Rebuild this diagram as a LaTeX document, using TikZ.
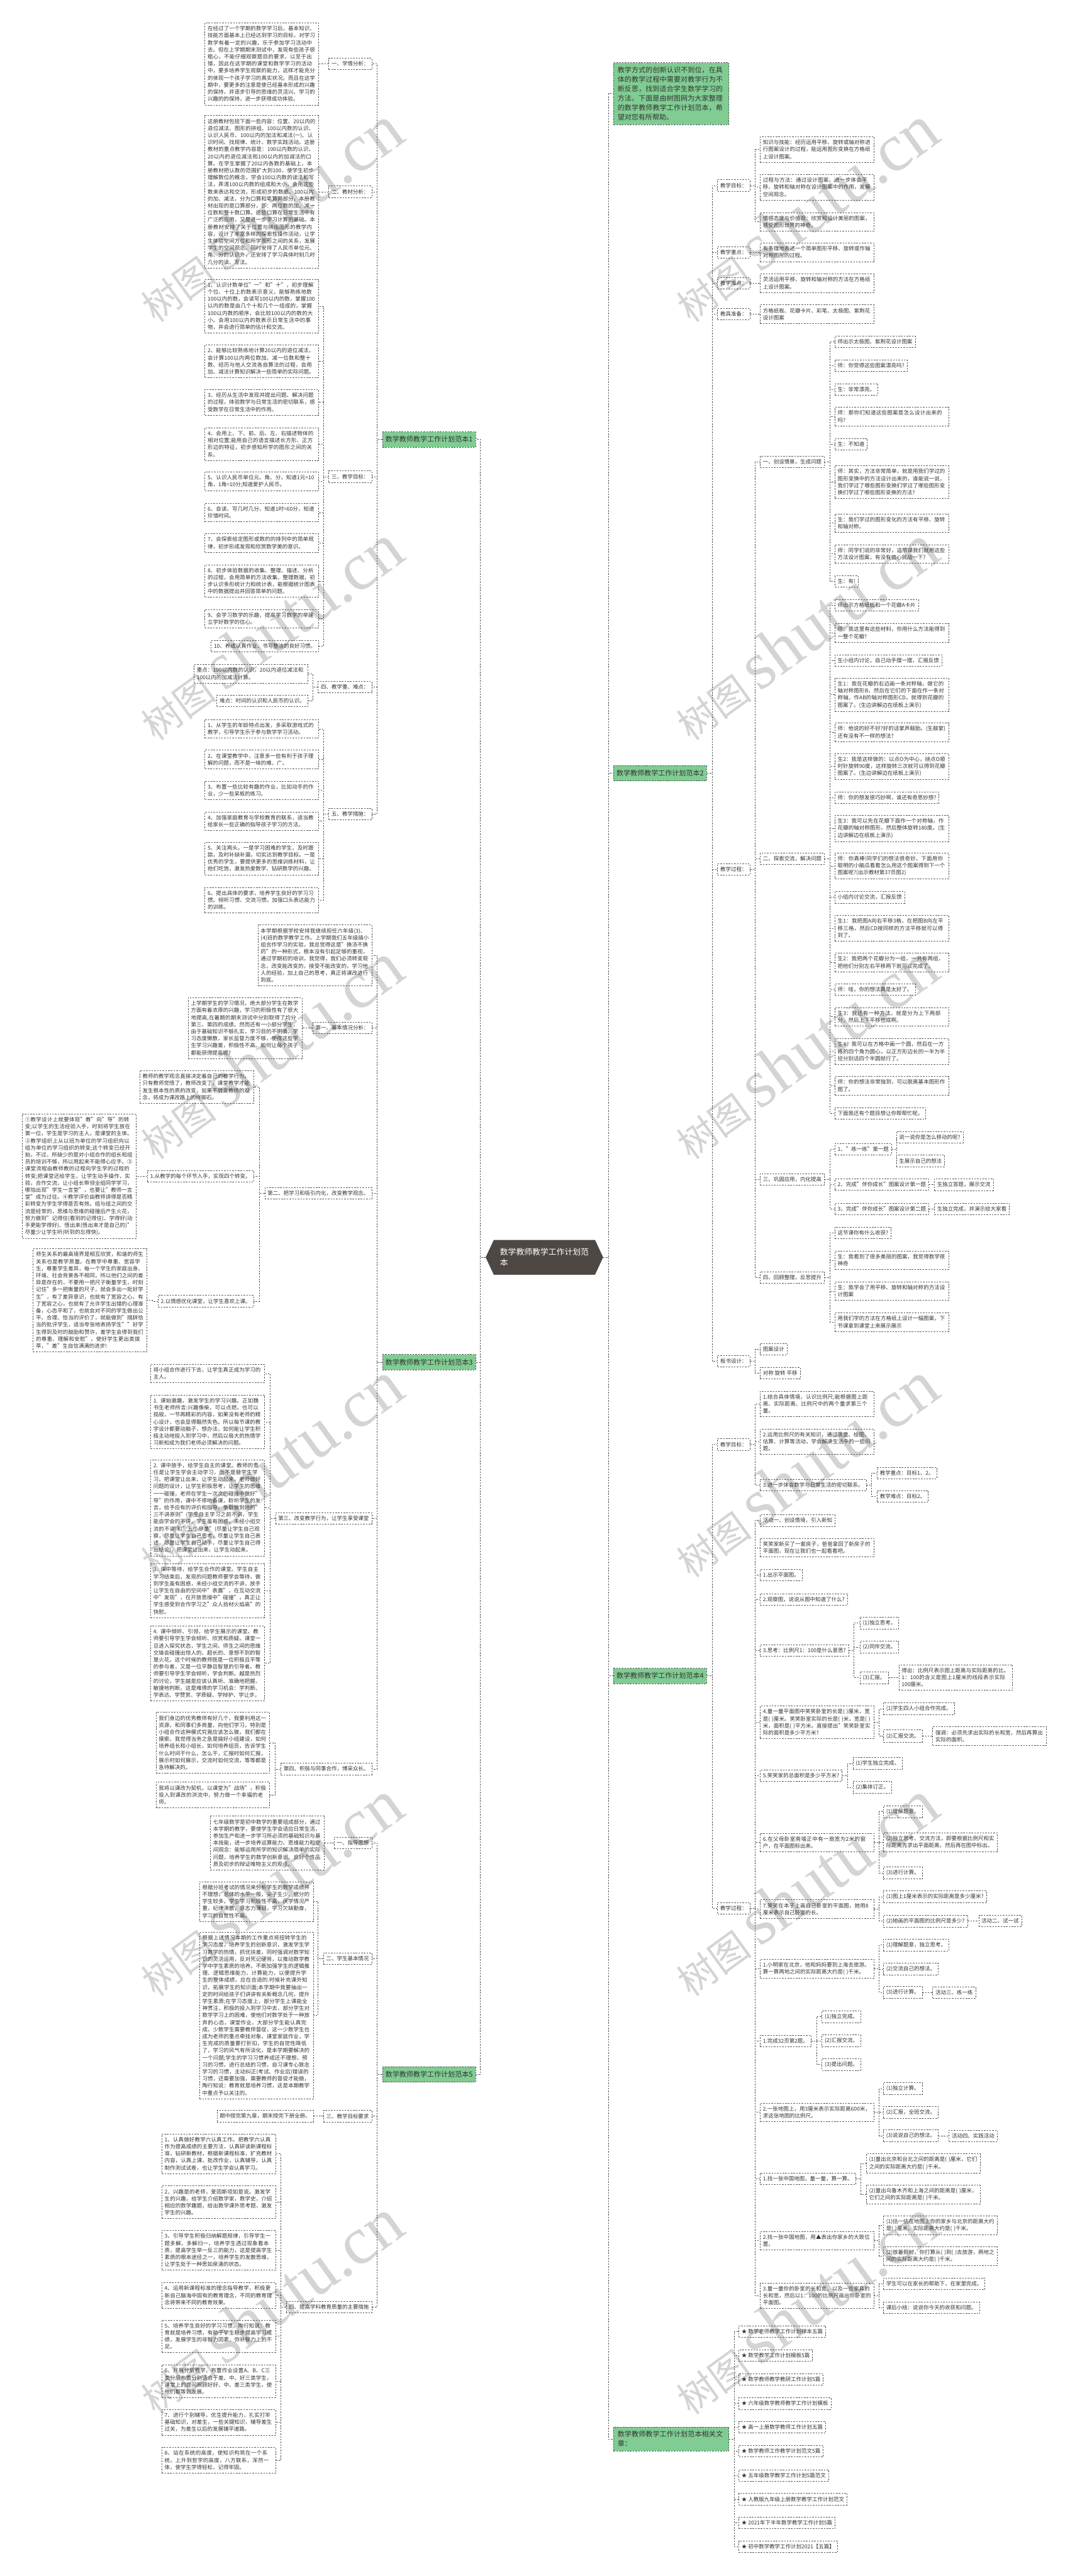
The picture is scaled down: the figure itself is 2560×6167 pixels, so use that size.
\documentclass[tikz,border=0pt]{standalone}
\usepackage{fontspec}
\setmainfont{Noto Sans CJK SC}
\newfontfamily\wmfont{Liberation Serif}
\usepackage{tikz}
\usetikzlibrary{shapes, arrows.meta, positioning, calc}
\XeTeXlinebreaklocale "zh"
\XeTeXlinebreakskip = 0pt plus 1pt
\definecolor{boxline}{HTML}{555555}
\definecolor{inkgray}{HTML}{333333}
\definecolor{leafgreen}{HTML}{80CC92}
\definecolor{rootgray}{HTML}{4E4845}
\newcommand{\cnsmall}{\fontsize{10.9pt}{14.4pt}\selectfont}
\newcommand{\cnmid}{\fontsize{14.2pt}{19.2pt}\selectfont}
\newcommand{\cnroot}{\fontsize{16.5pt}{21pt}\selectfont}
\newcommand{\linkL}[2]{\path[draw, Link] (#1.west) -- ++(-12.5,0) |- (#2.east);}
\newcommand{\linkR}[2]{\path[draw, Link] (#1.east) -- ++(12.5,0) |- (#2.west);}

\begin{document}
\begin{tikzpicture}
  [
    x=0.03cm, y=-0.03cm,
    Link/.style={draw=boxline, line width=0.8pt, dash pattern=on 3.2pt off 2.4pt},
    Tag/.style={draw=boxline, line width=0.8pt, dash pattern=on 3.2pt off 2.4pt, text=inkgray, font=\cnsmall, inner xsep=5.6pt, inner ysep=6.6pt},
    Leaf/.style={Tag, text width=221pt, align=left},
    Branch/.style={Tag, fill=leafgreen, font=\cnmid, inner xsep=6pt, inner ysep=9pt},
    Intro/.style={Branch, text width=219pt, align=left, inner xsep=8.3pt, inner ysep=8.5pt},
    Root/.style={signal, signal to=east and west, signal pointer angle=130, fill=rootgray, text=white, font=\cnroot, align=left, minimum width=240pt, minimum height=71pt},
    Mark/.style={text=black!17, rotate=36, inner sep=0pt, font=\fontsize{78pt}{78pt}\selectfont}
  ]
  \path[use as bounding box, fill=white] (0, 0) rectangle (2560, 6167);
  % Marks
  \node[Mark] (wm1) at (644, 512) {树图\hspace{18pt}{\wmfont\fontsize{138pt}{138pt}\selectfont shutu.cn}};
  \node[Mark] (wm2) at (644, 1514) {树图\hspace{18pt}{\wmfont\fontsize{138pt}{138pt}\selectfont shutu.cn}};
  \node[Mark] (wm3) at (644, 2516) {树图\hspace{18pt}{\wmfont\fontsize{138pt}{138pt}\selectfont shutu.cn}};
  \node[Mark] (wm4) at (644, 3518) {树图\hspace{18pt}{\wmfont\fontsize{138pt}{138pt}\selectfont shutu.cn}};
  \node[Mark] (wm5) at (644, 4520) {树图\hspace{18pt}{\wmfont\fontsize{138pt}{138pt}\selectfont shutu.cn}};
  \node[Mark] (wm6) at (644, 5522) {树图\hspace{18pt}{\wmfont\fontsize{138pt}{138pt}\selectfont shutu.cn}};
  \node[Mark] (wm7) at (1925, 512) {树图\hspace{18pt}{\wmfont\fontsize{138pt}{138pt}\selectfont shutu.cn}};
  \node[Mark] (wm8) at (1925, 1514) {树图\hspace{18pt}{\wmfont\fontsize{138pt}{138pt}\selectfont shutu.cn}};
  \node[Mark] (wm9) at (1925, 2516) {树图\hspace{18pt}{\wmfont\fontsize{138pt}{138pt}\selectfont shutu.cn}};
  \node[Mark] (wm10) at (1925, 3518) {树图\hspace{18pt}{\wmfont\fontsize{138pt}{138pt}\selectfont shutu.cn}};
  \node[Mark] (wm11) at (1925, 4520) {树图\hspace{18pt}{\wmfont\fontsize{138pt}{138pt}\selectfont shutu.cn}};
  \node[Mark] (wm12) at (1925, 5522) {树图\hspace{18pt}{\wmfont\fontsize{138pt}{138pt}\selectfont shutu.cn}};

  % Nodes
  \node[Root] (root) at (1303, 3010) {数学教师教学工作计划范\\本};

  % --- plan 1
  \node[Branch, anchor=east] (p1) at (1139, 1052) {数学教师教学工作计划范本1};
  \node[Tag, anchor=east] (s1) at (890, 153) {一、学情分析：};
  \node[Leaf, anchor=east] (s1a) at (763, 153) {在经过了一个学期的数学学习后，基本知识、技能方面基本上已经达到学习的目标，对学习数学有着一定的兴趣，乐于参加学习活动中去。但在上学期期末测试中，发现有些孩子很粗心，不能仔细观察题目的要求，以至于出错，因此在这学期的课堂和数学学习的活动中，要多培养学生观察的能力，这样才能充分的体现一个孩子学习的真实状况。而且在这学期中，要更多的注意是使已经基本形成的兴趣的保持，并逐步引导的思维的灵活兴、学习的兴趣的的保持，进一步获得成功体验。};
  \node[Tag, anchor=east] (s2) at (890, 459) {二、教材分析：};
  \node[Leaf, anchor=east] (s2a) at (763, 459) {这册教材包括下面一些内容：位置、20以内的退位减法、图形的拼组、100以内数的认识、认识人民币、100以内的加法和减法(一)、认识时间、找规律、统计、数学实践活动。这册教材的重点教学内容是：100以内数的认识，20以内的退位减法和100以内的加减法的口算。在学生掌握了20以内各数的基础上，本册教材把认数的范围扩大到100，使学生初步理解数位的概念，学会100以内数的读法和写法，弄清100以内数的组成和大小，会用这些数来表达和交流，形成初步的数感。100以内的加、减法，分为口算和笔算两部分，本册教材出现的是口算部分，即：两位数的加、减一位数和整十数口算。这些口算在日常生活中有广泛的应用，又是进一步学习计算的基础。本册教材安排了关于位置与拼组图形的教学内容，设计了丰富多样的探索性操作活动，让学生体验空间方位和所学图形之间的关系，发展学生的空间观念。同时安排了人民币单位元、角、分的认识外，还安排了学习具体时刻几时几分的读、写法。};
  \node[Tag, anchor=east] (s3) at (890, 1141) {三、教学目标：};
  \node[Leaf, anchor=east] (g1) at (763, 733) {1、认识计数单位"一"和"十"，初步理解个位、十位上的数表示意义，能够熟练地数100以内的数，会读写100以内的数，掌握100以内的数是由几个十和几个一组成的，掌握100以内数的顺序，会比较100以内的数的大小。会用100以内的数表示日常生活中的事物，并会进行简单的估计和交流。};
  \node[Leaf, anchor=east] (g2) at (763, 865) {2、能够比较熟练地计算20以内的退位减法，会计算100以内两位数加、减一位数和整十数、经历与他人交流各自算法的过程，会用加、减法计算知识解决一些简单的实际问题。};
  \node[Leaf, anchor=east] (g3) at (763, 963) {3、经历从生活中发现并提出问题、解决问题的过程，体验数学与日常生活的密切联系，感受数学在日常生活中的作用。};
  \node[Leaf, anchor=east] (g4) at (763, 1063) {4、会用上、下、前、后、左、右描述物体的相对位置;能用自己的语言描述长方形、正方形边的特征，初步感知所学的图形之间的关系。};
  \node[Leaf, anchor=east] (g5) at (763, 1152) {5、认识人民币单位元、角、分，知道1元=10角，1角=10分;知道爱护人民币。};
  \node[Leaf, anchor=east] (g6) at (763, 1227) {6、会读、写几时几分，知道1时=60分，知道珍惜时间。};
  \node[Leaf, anchor=east] (g7) at (763, 1300) {7、会探索给定图形或数的的排列中的简单规律，初步形成发现和欣赏数学美的意识。};
  \node[Leaf, anchor=east] (g8) at (763, 1391) {8、初步体验数据的收集、整理、描述、分析的过程，会用简单的方法收集、整理数据，初步认识条形统计力和统计表，能根据统计图表中的数据提出并回答简单的问题。};
  \node[Leaf, anchor=east] (g9) at (763, 1481) {9、会学习数学的乐趣，提高学习数学的举建立学好数学的信心。};
  \node[Tag, anchor=east] (g10) at (763, 1547) {10、养成认真作业、书写整洁的良好习惯。};
  \node[Tag, anchor=east] (s4) at (890, 1645) {四、教学重、难点：};
  \node[Leaf, anchor=east] (k1) at (737, 1613) {重点：100以内数的认识，20以内退位减法和100以内的加减法计算。};
  \node[Tag, anchor=east] (k2) at (737, 1678) {难点：时间的认识和人民币的认识。};
  \node[Tag, anchor=east] (s5) at (890, 1949) {五、教学措施：};
  \node[Leaf, anchor=east] (m1) at (763, 1745) {1、从学生的年龄特点出发，多采取游戏式的教学，引导学生乐于参与数学学习活动。};
  \node[Leaf, anchor=east] (m2) at (763, 1818) {2、在课堂教学中，注意多一些有利于孩子理解的问题，而不是一味的难、广。};
  \node[Leaf, anchor=east] (m3) at (763, 1892) {3、布置一些比较有趣的作业，比如动手的作业，少一些呆板的练习。};
  \node[Leaf, anchor=east] (m4) at (763, 1966) {4、加强家庭教育与学校教育的联系，适当教给家长一些正确的指导孩子学习的方法。};
  \node[Leaf, anchor=east] (m5) at (763, 2055) {5、关注两头。一是学习困难的学生，及时跟踪，及时补缺补漏，切实达到教学目标。一是优秀的学生，要提供更多的思维训练材料，让他们吃饱，激发热爱数学、钻研数学的兴趣。};
  \node[Leaf, anchor=east] (m6) at (763, 2155) {6、提出具体的要求，培养学生良好的学习习惯。倾听习惯、交流习惯。加强口头表达能力的训练。};

  % --- plan 3
  \node[Branch, anchor=east] (p3) at (1139, 3261) {数学教师教学工作计划范本3};
  \node[Leaf, anchor=east] (t0) at (890, 2287) {本学期根据学校安排我继续担任六年级(3)、(4)班的数学教学工作。上学期我们五年级搞小组合作学习的实验，我总觉得这是"换汤不换药"的一种形式，根本没有引起足够的重视，通过学期初的培训，我觉得，我们必须转变观念，改变能改变的，接受不能改变的，学习他人的经验，加上自己的思考，真正将课改进行到底。};
  \node[Tag, anchor=east] (t1) at (890, 2461) {第一、基本情况分析：};
  \node[Leaf, anchor=east] (t1a) at (723, 2461) {上学期学生的学习情况，绝大部分学生在数学方面有着浓厚的兴趣，学习的积极性有了很大地提高,在暑期的期末测试中分别取得了均分第三、第四的成绩。然而还有一小部分学生，由于基础知识不够扎实，学习目的不明确，学习态度懒散，家长监督力度不够，使得这些学生学习兴趣差，积极性不高。如何让每个孩子都能获得提高呢?};
  \node[Tag, anchor=east] (t2) at (890, 2857) {第二、把学习和吸引内化，改变教学观念。};
  \node[Leaf, anchor=east] (t2a) at (607, 2602) {教师的教学观念直接决定着自己的教学行为。只有教师觉悟了，教师改变了，课堂教学才能发生根本性的质的改变，如果不转变教师的观念，将成为课改路上的绊脚石。};
  \node[Tag, anchor=east] (t2b) at (607, 2816) {1.从教学的每个环节入手，实现四个转变。};
  \node[Leaf, anchor=east] (t2b1) at (326, 2816) {①教学设计上就要体现"教"向"导"的转变;以学生的生活经验入手，时刻将学生放在第一位，学生是学习的主人，是课堂的主体。②教学组织上从以班为单位的学习组织向以组为单位的学习组织的转变;这个转变已经开始，不过，所缺少的是对小组合作的组长和组员的培训不够，所以用起来不能得心应手。③课堂流程由教师教的过程向学生学的过程的转变;把课堂还给学生，让学生动手操作，实验，合作交流，让小组长带领全组同学学习，哪怕出现"学生一言堂"，也要让"教师一言堂"成为过往。④教学评价由教师讲得是否精彩转变为学生学得是否有效。组与组之间的交流是经常的，思维与思维的碰撞后产生火花，努力做到"记得住(看到的记得住)、学得好(动手更能学得好)、悟出来(悟出来才是自己的)"尽量少让学生听(听到的忘得快)。};
  \node[Tag, anchor=east] (t2c) at (607, 3115) {2.以情感优化课堂，让学生喜欢上课。};
  \node[Leaf, anchor=east] (t2c1) at (352, 3113) {师生关系的最高境界是相互欣赏，和谐的师生关系也是教学质量。在教学中尊重、宽容学生，尊重学生差异，每一个学生的家庭出身、环境、社会背景各不相同，所以他们之间的差异是存在的，不要用一把尺子衡量学生，时刻记住"多一把衡量的尺子，就会多出一批好学生"，有了差异意识，也就有了宽容之心，有了宽容之心，也就有了允许学生出错的心理准备，心态平和了，也就会对不同的学生做出公平、合理、恰当的评价了，就能做到"措辞恰当的批评学生，适当夸张地表扬学生""好学生得到及时的鼓励和赞许，差学生会得到我们的尊重、理解和安慰"，使好学生更出类拔萃，"差"生自信满满的进步!};
  \node[Tag, anchor=east] (t3) at (890, 3635) {第三、改变教学行为，让学生享受课堂};
  \node[Leaf, anchor=east] (c1) at (633, 3288) {将小组合作进行下去，让学生真正成为学习的主人。};
  \node[Leaf, anchor=east] (c2) at (633, 3404) {1. 课始激趣，激发学生的学习兴趣。正如魏书生老师所言:兴趣像柴，可以点燃，也可以捣毁，一节再精彩的内容，如果没有老师的精心设计，也会显得黯然失色。所以每节课的教学设计都要动脑子，想办法，如何能让学生积极主动地投入到学习中，然后以极大的热情学习新知成为我们老师必须解决的问题。};
  \node[Leaf, anchor=east] (c3) at (633, 3610) {2. 课中放手，给学生自主的课堂。教师的责任是让学生学会主动学习，而不是替学生学习。把课堂让出来，让学生动起来，老师做好问题的设计，让学生积极思考，让学生的思维一一碰撞，老师在学生一次次的碰撞中做好"导"的作用，课中不停地备课，聆听学生的发言，给予应有的评价和指导，争取做到她的"三不讲原则"(学生自主学习之前不讲，学生能自学会的不讲，学生虽有困惑，未经小组交流的不讲)和"五个尽量"(尽量让学生自己观察，尽量让学生自己思考，尽量让学生自己表述，尽量让学生自己动手，尽量让学生自己得出结论)，把课堂让出来，让学生动起来。};
  \node[Leaf, anchor=east] (c4) at (633, 3808) {3. 课中等待，给学生合作的课堂。学生自主学习结束后，发现的问题教师要学会等待，做到学生虽有困惑，未经小组交流的不讲，放手让学生在自由的空间中"表露"，在互动交流中"发现"，在开放思维中"碰撞"，真正让学生感受到合作学习之"众人拾材火焰高"的快慰。};
  \node[Leaf, anchor=east] (c5) at (633, 3982) {4. 课中倾听、引领，给学生展示的课堂。教师要引导学生学会倾听、欣赏和质疑。课堂一旦进入探究状态，学生之间、师生之间的思维交锋会碰撞出惊人的、超长的、意想不到的智慧火花。这个时候的教师既是一位积极且平等的参与者，又是一位平静且智慧的引导者。教师要引导学生学会倾听，学会判断。越是热烈的讨论，学生越是应该认真听、准确地把握、敏捷地判断。这是难得的学习机会：学判断、学表达、学赞赏、学质疑、学辩护、学让步。};
  \node[Tag, anchor=east] (t4) at (890, 4235) {第四、积极与同事合作，博采众长。};
  \node[Leaf, anchor=east] (d1) at (646, 4172) {我们身边的优秀教师有好几个，我要利用这一资源，和同事们多商量，向他们学习，特别是小组合作这种模式究竟应该怎么做，我们都在摸索，我觉得当务之急是搞好小组建设，如何培养组长和小组长，如何培养组员，告诉学生什么时间干什么，怎么干，汇报时如何汇报，展示时如何展示，交流时如何交流，等等都是急待解决的。};
  \node[Leaf, anchor=east] (d2) at (646, 4297) {我将以课改为契机，以课堂为"战场"，积极投入到课改的洪流中，努力做一个幸福的老师。};

  % --- plan 5
  \node[Branch, anchor=east] (p5) at (1139, 4966) {数学教师教学工作计划范本5};
  \node[Tag, anchor=east] (u1) at (890, 4412) {一、指导思想};
  \node[Leaf, anchor=east] (u1a) at (776, 4412) {七年级数学是初中数学的重要组成部分，通过本学期的教学，要使学生学会适应日常生活，参加生产和进一步学习所必须的基础知识与基本技能，进一步培养运算能力、思维能力和空间观念：能够运用所学的知识解决简单的实际问题，培养学生的数学创新意识、良好个性品质及初步的辩证唯物主义的观点。};
  \node[Tag, anchor=east] (u2) at (890, 4689) {二、学生基本情况};
  \node[Leaf, anchor=east] (u2a) at (750, 4552) {根据分班考试的情况来分析学生的数学成绩并不理想，总体的水平一般，尖子生少、低分的学生较多。学生学习积极性不高，厌学情况严重，纪律涣散，意志力薄弱，学习欠缺勤奋，学习的自觉性不高。};
  \node[Leaf, anchor=east] (u2b) at (750, 4825) {根据上述情况本期的工作重点将扭转学生的学习态度，培养学生的创新意识，激发学生学习数学的热情，抓优扶差，同时强调对数学知识的灵活运用，反对死记硬背，以推动数学教学中学生素质的培养。不断加强学生的逻辑推理、逻辑思维能力，计算能力，以便提升学生的整体成绩，应在合适的.时候补充课外知识，拓展学生的知识面;本学期中我要抽出一定的时间给孩子们讲讲有关新概念几何，提升学生素质;在学习态度上，部分学生上课能全神贯注，积极的投入到学习中去，部分学生对数学学习上的困难，使他们对数学处于一种放弃的心态，课堂作业，大部分学生能认真完成，少数学生需要教师督促，这一少数学生也成为老师的重点牵挂对象，课堂家庭作业，学生完成的质量要打折扣，学生的自觉性降低了，学习的风气有所淡化，是本学期要解决的一个问题;学生的学习习惯养成还不理想，预习的习惯，进行总结的习惯，自习课专心致志学习的习惯，主动纠正(考试、作业后)错误的习惯，还需要加强，需要教师的督促才能做，陶行知说：教育就是培养习惯，这是本期教学中重点予以关注的。};
  \node[Tag, anchor=east] (u3) at (890, 5066) {三、教学目标要求};
  \node[Tag, anchor=east] (u3a) at (750, 5066) {期中授完第九章，期末授完下册全册。};
  \node[Tag, anchor=east] (u4) at (890, 5523) {四、提高学科教育质量的主要措施};
  \node[Leaf, anchor=east] (h1) at (660, 5156) {1、认真做好教学六认真工作。把教学六认真作为提高成绩的主要方法，认真研读新课程标准，钻研新教材，根据新课程标准，扩充教材内容，认真上课，批改作业，认真辅导，认真制作测试试卷，也让学生学会认真学习。};
  \node[Leaf, anchor=east] (h2) at (660, 5272) {2、兴趣是的老师，爱因斯坦如是说。激发学生的兴趣，给学生介绍数学家，数学史，介绍相应的数学趣题，给出数学课外思考题，激发学生的兴趣。};
  \node[Leaf, anchor=east] (h3) at (660, 5387) {3、引导学生积极归纳解题规律，引导学生一题多解，多解归一，培养学生透过现象看本质，提高学生举一反三的能力，这是提高学生素质的根本途径之一，培养学生的发散思维，让学生处于一种思如泉涌的状态。};
  \node[Leaf, anchor=east] (h4) at (660, 5495) {4、运用新课程标准的理念指导教学，积极更新自己脑海中固有的教育理念，不同的教育理念将带来不同的教育效果。};
  \node[Leaf, anchor=east] (h5) at (660, 5593) {5、培养学生良好的学习习惯，陶行知说：教育就是培养习惯，有助于学生稳步提高学习成绩，发展学生的非智力因素，弥补智力上的不足。};
  \node[Leaf, anchor=east] (h6) at (660, 5701) {6、开展分层教学，布置作业设置A、B、C三类分层布置分别适合于差、中、好三类学生，课堂上的提问照顾好好、中、差三类学生，使他们都等到发展。};
  \node[Leaf, anchor=east] (h7) at (660, 5799) {7、进行个别辅导，优生提升能力，扎实打牢基础知识，对差生，一些关键知识，辅导差生过关，为差生以后的发展铺平道路。};
  \node[Leaf, anchor=east] (h8) at (660, 5890) {8、站在系统的高度，使知识构筑在一个系统，上升到哲学的高度，八方联系，浑然一体，使学生学得轻松，记得牢固。};

  % --- intro
  \node[Intro, anchor=west] (p0) at (1468, 224) {教学方式的创新认识不到位，在具体的教学过程中需要对教学行为不断反思，找到适合学生数学学习的方法。下面是由树图网为大家整理的数学教师教学工作计划范本，希望对您有所帮助。};

  % --- plan 2
  \node[Branch, anchor=west] (p2) at (1468, 1851) {数学教师教学工作计划范本2};
  \node[Tag, anchor=west] (w1) at (1717, 444) {教学目标：};
  \node[Leaf, anchor=west] (w1a) at (1819, 358) {知识与技能：经历运用平移、旋转或轴对称进行图案设计的过程，能运用图形变换在方格纸上设计图案。};
  \node[Leaf, anchor=west] (w1b) at (1819, 448) {过程与方法：通过设计图案，进一步体会平移、旋转和轴对称在设计图案中的作用，发展空间观念。};
  \node[Leaf, anchor=west] (w1c) at (1819, 531) {情感态度与价值观：欣赏和设计美丽的图案，感受图形世界的神奇。};
  \node[Tag, anchor=west] (w2) at (1717, 604) {教学重点：};
  \node[Leaf, anchor=west] (w2a) at (1819, 604) {有条理地表述一个简单图形平移、旋转或作轴对称图形的过程。};
  \node[Tag, anchor=west] (w3) at (1717, 678) {教学难点：};
  \node[Leaf, anchor=west] (w3a) at (1819, 678) {灵活运用平移、旋转和轴对称的方法在方格纸上设计图案。};
  \node[Tag, anchor=west] (w4) at (1717, 752) {教具准备：};
  \node[Leaf, anchor=west] (w4a) at (1819, 752) {方格纸板、花瓣卡片、彩笔、太极图、紫荆花设计图案};
  \node[Tag, anchor=west] (w5) at (1717, 2081) {教学过程：};
  \node[Tag, anchor=west] (x1) at (1819, 1106) {一、创设情景，生成问题};
  \node[Tag, anchor=west] (x1a) at (1998, 818) {师出示太极图、紫荆花设计图案};
  \node[Tag, anchor=west] (x1b) at (1998, 875) {师：你觉得这些图案漂亮吗?};
  \node[Tag, anchor=west] (x1c) at (1998, 932) {生：非常漂亮。};
  \node[Leaf, anchor=west] (x1d) at (1998, 997) {师：那你们知道这些图案是怎么设计出来的吗?};
  \node[Tag, anchor=west] (x1e) at (1998, 1063) {生：不知道};
  \node[Leaf, anchor=west] (x1f) at (1998, 1154) {师：其实，方法非常简单，就是用我们学过的图形变换中的方法设计出来的，谁能说一说，我们学过了哪些图形变换们学过了哪些图形变换们学过了哪些图形变换的方法?};
  \node[Leaf, anchor=west] (x1g) at (1998, 1252) {生：我们学过的图形变化的方法有平移、旋转和轴对称。};
  \node[Leaf, anchor=west] (x1h) at (1998, 1326) {师：同学们说的非常好，这节课我们就用这些方法设计图案，有没有信心挑战一下?};
  \node[Tag, anchor=west] (x1i) at (1998, 1392) {生：有!};
  \node[Tag, anchor=west] (x2) at (1819, 2056) {二、探索交流，解决问题};
  \node[Tag, anchor=west] (x2a) at (1998, 1449) {师出示方格纸板和一个花瓣A卡片};
  \node[Leaf, anchor=west] (x2b) at (1998, 1515) {师：我这里有这些材料，你用什么方法能得到一整个花瓣?};
  \node[Tag, anchor=west] (x2c) at (1998, 1581) {生小组内讨论，自己动手摆一摆，汇报反馈};
  \node[Leaf, anchor=west] (x2d) at (1998, 1663) {生1：我在花瓣的右边画一条对称轴，做它的轴对称图形B，然后在它们的下面在作一条对称轴，作AB的轴对称图形CD。就得到花瓣的图案了。(生边讲解边在纸板上演示)};
  \node[Leaf, anchor=west] (x2e) at (1998, 1753) {师：他说的好不好?好的话掌声鼓励。(生鼓掌)还有没有不一样的想法?};
  \node[Leaf, anchor=west] (x2f) at (1998, 1835) {生2：我是这样做的：以点O为中心，绕点O顺时针旋转90度，这样旋转三次就可以得到花瓣图案了。(生边讲解边在纸板上演示)};
  \node[Tag, anchor=west] (x2g) at (1998, 1910) {师：你的想发很巧妙啊，谁还有奇思妙想?};
  \node[Leaf, anchor=west] (x2h) at (1998, 1983) {生3：我可以先在花瓣下面作一个对称轴，作花瓣的轴对称图形，然后整体旋转180度。(生边讲解边在纸板上演示)};
  \node[Leaf, anchor=west] (x2i) at (1998, 2073) {师：你真棒!同学们的想法很奇妙，下面用你聪明的小脑瓜看看怎么用这个图案得到下一个图案呢?(出示教材第37页图2)};
  \node[Tag, anchor=west] (x2j) at (1998, 2148) {小组内讨论交流，汇报反馈};
  \node[Leaf, anchor=west] (x2k) at (1998, 2222) {生1：我把图A向右平移3格，在把图B向左平移三格，然后CD按同样的方法平移就可以得到了。};
  \node[Leaf, anchor=west] (x2l) at (1998, 2304) {生2：我把两个花瓣分为一组，一共有两组，把他们分别左右平移两下就可以完成了。};
  \node[Tag, anchor=west] (x2m) at (1998, 2369) {师：哇，你的想法真是太好了。};
  \node[Leaf, anchor=west] (x2n) at (1998, 2434) {生3：我还有一种方法，就是分为上下两部分，然后上下平移也成啊。};
  \node[Leaf, anchor=west] (x2o) at (1998, 2517) {生4：我可以在方格中画一个圆，然后在一方格的四个角为圆心，以正方形边长的一半为半径分别话四个半圆就行了。};
  \node[Leaf, anchor=west] (x2p) at (1998, 2599) {师：你的想法非常独到，可以脱离基本图形作图了。};
  \node[Tag, anchor=west] (x2q) at (1998, 2665) {下面我还有个题目想让你帮帮忙呢。};
  \node[Tag, anchor=west] (x3) at (1819, 2823) {三、巩固应用，内化提高};
  \node[Tag, anchor=west] (x3a) at (1998, 2751) {1、"练一练"第一题};
  \node[Tag, anchor=west] (x3a1) at (2145, 2722) {说一说你是怎么移动的呢?};
  \node[Tag, anchor=west] (x3a2) at (2145, 2779) {生展示自己的想法};
  \node[Tag, anchor=west] (x3b) at (1998, 2836) {2、完成"伴你成长"图案设计第一题};
  \node[Tag, anchor=west] (x3b1) at (2236, 2836) {生独立答题，展示交流};
  \node[Tag, anchor=west] (x3c) at (1998, 2894) {3、完成"伴你成长"图案设计第二题};
  \node[Tag, anchor=west] (x3c1) at (2236, 2894) {生独立完成，并演示给大家看};
  \node[Tag, anchor=west] (x4) at (1819, 3058) {四、回顾整理，反思提升};
  \node[Tag, anchor=west] (x4a) at (1998, 2951) {这节课你有什么收获?};
  \node[Leaf, anchor=west] (x4b) at (1998, 3017) {生：我看到了很多美丽的图案，我觉得数学很神奇};
  \node[Leaf, anchor=west] (x4c) at (1998, 3091) {生：我学会了用平移、旋转和轴对称的方法设计图案};
  \node[Leaf, anchor=west] (x4d) at (1998, 3165) {用我们学的方法在方格纸上设计一幅图案，下节课拿到课堂上来展示展示};
  \node[Tag, anchor=west] (w6) at (1717, 3259) {板书设计：};
  \node[Tag, anchor=west] (w6a) at (1819, 3230) {图案设计};
  \node[Tag, anchor=west] (w6b) at (1819, 3287) {对称 旋转 平移};

  % --- plan 4
  \node[Branch, anchor=west] (p4) at (1468, 4012) {数学教师教学工作计划范本4};
  \node[Tag, anchor=west] (v1) at (1717, 3458) {教学目标：};
  \node[Leaf, anchor=west] (v1a) at (1819, 3361) {1.结合具体情境，认识比例尺;能根据图上距离、实际距离、比例尺中的两个量求第三个量。};
  \node[Leaf, anchor=west] (v1b) at (1819, 3451) {2.运用比例尺的有关知识，通过测量、绘图、估算、计算等活动，学会解决生活中的一些问题。};
  \node[Tag, anchor=west] (v1c) at (1819, 3555) {3.进一步体会数学与日常生活的密切联系。};
  \node[Tag, anchor=west] (v1c1) at (2099, 3526) {教学重点：目标1、2。};
  \node[Tag, anchor=west] (v1c2) at (2099, 3582) {教学难点：目标2。};
  \node[Tag, anchor=west] (v2) at (1717, 4568) {教学过程：};
  \node[Tag, anchor=west] (y1) at (1819, 3640) {活动一、创设情境，引入新知};
  \node[Leaf, anchor=west] (y2) at (1819, 3705) {笑笑家新买了一套房子，爸爸拿回了新房子的平面图，现在让我们也一起看看吧。};
  \node[Tag, anchor=west] (y3) at (1819, 3771) {1.出示平面图。};
  \node[Tag, anchor=west] (y4) at (1819, 3829) {2.观察图，说说从图中知道了什么?};
  \node[Tag, anchor=west] (y5) at (1819, 3951) {3.思考：比例尺1：100是什么意思?};
  \node[Tag, anchor=west] (y5a) at (2058, 3885) {(1)独立思考。};
  \node[Tag, anchor=west] (y5b) at (2058, 3943) {(2)同伴交流。};
  \node[Tag, anchor=west] (y5c) at (2058, 4016) {(3)汇报。};
  \node[Leaf, anchor=west] (y5c1) at (2151, 4016) {得出：比例尺表示图上距离与实际距离的比。1：100的含义是图上1厘米的线段表示实际100厘米。};
  \node[Leaf, anchor=west] (y6) at (1819, 4123) {4.量一量平面图中笑笑卧室的长是( )厘米，宽是( )厘米。笑笑卧室实际的长是( )米，宽是( )米，面积是( )平方米。直接提出"笑笑卧室实际的面积是多少平方米?};
  \node[Tag, anchor=west] (y6a) at (2114, 4091) {(1)学生四人小组合作完成。};
  \node[Tag, anchor=west] (y6b) at (2114, 4156) {(2)汇报交流。};
  \node[Leaf, anchor=west] (y6b1) at (2232, 4156) {强调：必须先求出实际的长和宽，然后再算出实际的面积。};
  \node[Tag, anchor=west] (y7) at (1819, 4251) {5.笑笑家的总面积是多少平方米?};
  \node[Tag, anchor=west] (y7a) at (2041, 4222) {(1)学生独立完成。};
  \node[Tag, anchor=west] (y7b) at (2041, 4279) {(2)集体订正。};
  \node[Leaf, anchor=west] (y8) at (1819, 4411) {6.在父母卧室南墙正中有一扇宽为2米的窗户，在平面图标出来。};
  \node[Tag, anchor=west] (y8a) at (2114, 4337) {(1)理解题意。};
  \node[Leaf, anchor=west] (y8b) at (2114, 4410) {(2)独立思考、交流方法，即要根据比例尺和实际距离先求出平面距离，然后再在图中标出。};
  \node[Tag, anchor=west] (y8c) at (2114, 4484) {(3)进行计算。};
  \node[Leaf, anchor=west] (y9) at (1819, 4570) {7.笑笑在本子上画自己卧室的平面图，她用8厘米表示自己卧室的长。};
  \node[Tag, anchor=west] (y9a) at (2114, 4541) {(1)图上1厘米表示的实际距离是多少厘米?};
  \node[Tag, anchor=west] (y9b) at (2114, 4599) {(2)她画的平面图的比例尺是多少?};
  \node[Tag, anchor=west] (y9b1) at (2342, 4599) {活动二、试一试};
  \node[Leaf, anchor=west] (y10) at (1819, 4713) {1.小明家在北京，他和妈妈要到上海去旅游。算一算两地之间的实际距离大约是( )千米。};
  \node[Tag, anchor=west] (y10a) at (2114, 4656) {(1)理解题意，独立思考。};
  \node[Tag, anchor=west] (y10b) at (2114, 4714) {(2)交流自己的想法。};
  \node[Tag, anchor=west] (y10c) at (2114, 4770) {(3)进行计算。};
  \node[Tag, anchor=west] (y10c1) at (2232, 4770) {活动三、练一练};
  \node[Tag, anchor=west] (y11) at (1819, 4886) {1.完成32页第2题。};
  \node[Tag, anchor=west] (y11a) at (1967, 4828) {(1)独立完成。};
  \node[Tag, anchor=west] (y11b) at (1967, 4886) {(2)汇报交流。};
  \node[Tag, anchor=west] (y11c) at (1967, 4942) {(3)提出问题。};
  \node[Leaf, anchor=west] (y12) at (1819, 5057) {2.一张地图上，用3厘米表示实际距离600米，求这张地图的比例尺。};
  \node[Tag, anchor=west] (y12a) at (2114, 5000) {(1)独立计算。};
  \node[Tag, anchor=west] (y12b) at (2114, 5057) {(2)汇报，全班交流。};
  \node[Tag, anchor=west] (y12c) at (2114, 5113) {(3)说说自己的想法。};
  \node[Tag, anchor=west] (y12c1) at (2271, 5113) {活动四、实践活动};
  \node[Tag, anchor=west] (y13) at (1819, 5216) {1.找一张中国地图，量一量，算一算。};
  \node[Leaf, anchor=west] (y13a) at (2073, 5179) {(1)量出北京和台北之间的距离是( )厘米，它们之间的实际距离大约是( )千米。};
  \node[Leaf, anchor=west] (y13b) at (2073, 5253) {(2)量出乌鲁木齐和上海之间的距离是( )厘米，它们之间的实际距离是( )千米。};
  \node[Leaf, anchor=west] (y14) at (1819, 5364) {2.找一张中国地图，用▲表出你家乡的大致位置。};
  \node[Leaf, anchor=west] (y14a) at (2114, 5327) {(1)估一估在地图上你的家乡与北京的距离大约是( )厘米，实际距离大约是( )千米。};
  \node[Leaf, anchor=west] (y14b) at (2114, 5401) {(2)放暑假时，你打算从( )到( )去旅游，两地之间的实际距离大约是( )千米。};
  \node[Leaf, anchor=west] (y15) at (1819, 5496) {3.量一量你的卧室的长和宽，以及一些家具的长和宽，然后以1：100的比例尺画出你卧室的平面图。};
  \node[Tag, anchor=west] (y15a) at (2114, 5467) {学生可以在家长的帮助下，在家里完成。};
  \node[Tag, anchor=west] (y15b) at (2114, 5525) {课后小结：说说你今天的收获和问题。};

  % --- related
  \node[Intro, anchor=west] (p6) at (1468, 5839) {数学教师教学工作计划范本相关文章：};
  \node[Tag, anchor=west] (z1) at (1768, 5582) {★ 数学老师教学工作计划样本五篇};
  \node[Tag, anchor=west] (z2) at (1768, 5639) {★ 数学教学工作计划模板5篇};
  \node[Tag, anchor=west] (z3) at (1768, 5696) {★ 数学教师教学教研工作计划5篇};
  \node[Tag, anchor=west] (z4) at (1768, 5754) {★ 六年级数学教师教学工作计划模板};
  \node[Tag, anchor=west] (z5) at (1768, 5811) {★ 高一上册数学教师工作计划五篇};
  \node[Tag, anchor=west] (z6) at (1768, 5868) {★ 数学教师工作教学计划范文5篇};
  \node[Tag, anchor=west] (z7) at (1768, 5926) {★ 五年级数学教学工作计划5篇范文};
  \node[Tag, anchor=west] (z8) at (1768, 5983) {★ 人教版九年级上册数学教学工作计划范文};
  \node[Tag, anchor=west] (z9) at (1768, 6040) {★ 2021年下半年数学教学工作计划5篇};
  \node[Tag, anchor=west] (z10) at (1768, 6097) {★ 初中数学教学工作计划2021【五篇】};

  % Lines
  \linkL{root}{p1} \linkL{root}{p3} \linkL{root}{p5}
  \linkR{root}{p0} \linkR{root}{p2} \linkR{root}{p4} \linkR{root}{p6}
  \linkL{p1}{s1} \linkL{p1}{s2} \linkL{p1}{s3} \linkL{p1}{s4} \linkL{p1}{s5}
  \linkL{s1}{s1a} \linkL{s2}{s2a}
  \linkL{s3}{g1} \linkL{s3}{g2} \linkL{s3}{g3} \linkL{s3}{g4} \linkL{s3}{g5}
  \linkL{s3}{g6} \linkL{s3}{g7} \linkL{s3}{g8} \linkL{s3}{g9} \linkL{s3}{g10}
  \linkL{s4}{k1} \linkL{s4}{k2}
  \linkL{s5}{m1} \linkL{s5}{m2} \linkL{s5}{m3} \linkL{s5}{m4} \linkL{s5}{m5} \linkL{s5}{m6}
  \linkL{p3}{t0} \linkL{p3}{t1} \linkL{p3}{t2} \linkL{p3}{t3} \linkL{p3}{t4}
  \linkL{t1}{t1a}
  \linkL{t2}{t2a} \linkL{t2}{t2b} \linkL{t2}{t2c}
  \linkL{t2b}{t2b1} \linkL{t2c}{t2c1}
  \linkL{t3}{c1} \linkL{t3}{c2} \linkL{t3}{c3} \linkL{t3}{c4} \linkL{t3}{c5}
  \linkL{t4}{d1} \linkL{t4}{d2}
  \linkL{p5}{u1} \linkL{p5}{u2} \linkL{p5}{u3} \linkL{p5}{u4}
  \linkL{u1}{u1a} \linkL{u2}{u2a} \linkL{u2}{u2b} \linkL{u3}{u3a}
  \linkL{u4}{h1} \linkL{u4}{h2} \linkL{u4}{h3} \linkL{u4}{h4}
  \linkL{u4}{h5} \linkL{u4}{h6} \linkL{u4}{h7} \linkL{u4}{h8}
  \linkR{p2}{w1} \linkR{p2}{w2} \linkR{p2}{w3} \linkR{p2}{w4} \linkR{p2}{w5} \linkR{p2}{w6}
  \linkR{w1}{w1a} \linkR{w1}{w1b} \linkR{w1}{w1c}
  \linkR{w2}{w2a} \linkR{w3}{w3a} \linkR{w4}{w4a}
  \linkR{w5}{x1} \linkR{w5}{x2} \linkR{w5}{x3} \linkR{w5}{x4}
  \linkR{x1}{x1a} \linkR{x1}{x1b} \linkR{x1}{x1c} \linkR{x1}{x1d} \linkR{x1}{x1e}
  \linkR{x1}{x1f} \linkR{x1}{x1g} \linkR{x1}{x1h} \linkR{x1}{x1i}
  \linkR{x2}{x2a} \linkR{x2}{x2b} \linkR{x2}{x2c} \linkR{x2}{x2d} \linkR{x2}{x2e}
  \linkR{x2}{x2f} \linkR{x2}{x2g} \linkR{x2}{x2h} \linkR{x2}{x2i} \linkR{x2}{x2j}
  \linkR{x2}{x2k} \linkR{x2}{x2l} \linkR{x2}{x2m} \linkR{x2}{x2n} \linkR{x2}{x2o}
  \linkR{x2}{x2p} \linkR{x2}{x2q}
  \linkR{x3}{x3a} \linkR{x3}{x3b} \linkR{x3}{x3c}
  \linkR{x3a}{x3a1} \linkR{x3a}{x3a2} \linkR{x3b}{x3b1} \linkR{x3c}{x3c1}
  \linkR{x4}{x4a} \linkR{x4}{x4b} \linkR{x4}{x4c} \linkR{x4}{x4d}
  \linkR{w6}{w6a} \linkR{w6}{w6b}
  \linkR{p4}{v1} \linkR{p4}{v2}
  \linkR{v1}{v1a} \linkR{v1}{v1b} \linkR{v1}{v1c}
  \linkR{v1c}{v1c1} \linkR{v1c}{v1c2}
  \linkR{v2}{y1} \linkR{v2}{y2} \linkR{v2}{y3} \linkR{v2}{y4} \linkR{v2}{y5}
  \linkR{v2}{y6} \linkR{v2}{y7} \linkR{v2}{y8} \linkR{v2}{y9} \linkR{v2}{y10}
  \linkR{v2}{y11} \linkR{v2}{y12} \linkR{v2}{y13} \linkR{v2}{y14} \linkR{v2}{y15}
  \linkR{y5}{y5a} \linkR{y5}{y5b} \linkR{y5}{y5c} \linkR{y5c}{y5c1}
  \linkR{y6}{y6a} \linkR{y6}{y6b} \linkR{y6b}{y6b1}
  \linkR{y7}{y7a} \linkR{y7}{y7b}
  \linkR{y8}{y8a} \linkR{y8}{y8b} \linkR{y8}{y8c}
  \linkR{y9}{y9a} \linkR{y9}{y9b} \linkR{y9b}{y9b1}
  \linkR{y10}{y10a} \linkR{y10}{y10b} \linkR{y10}{y10c} \linkR{y10c}{y10c1}
  \linkR{y11}{y11a} \linkR{y11}{y11b} \linkR{y11}{y11c}
  \linkR{y12}{y12a} \linkR{y12}{y12b} \linkR{y12}{y12c} \linkR{y12c}{y12c1}
  \linkR{y13}{y13a} \linkR{y13}{y13b}
  \linkR{y14}{y14a} \linkR{y14}{y14b}
  \linkR{y15}{y15a} \linkR{y15}{y15b}
  \linkR{p6}{z1} \linkR{p6}{z2} \linkR{p6}{z3} \linkR{p6}{z4} \linkR{p6}{z5}
  \linkR{p6}{z6} \linkR{p6}{z7} \linkR{p6}{z8} \linkR{p6}{z9} \linkR{p6}{z10}
\end{tikzpicture}
\end{document}
